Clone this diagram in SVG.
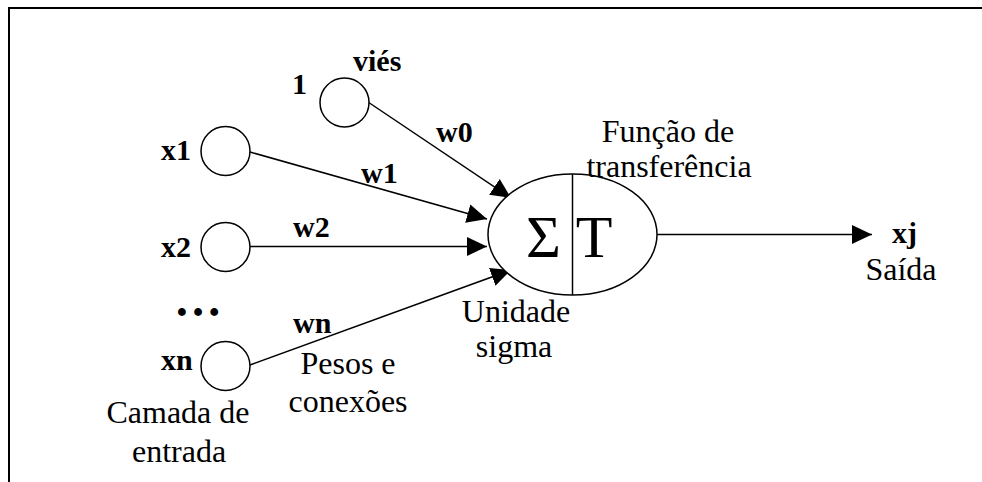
<svg xmlns="http://www.w3.org/2000/svg" width="982" height="482" viewBox="0 0 982 482">
  <style>
    .frame { fill: none; stroke: #000; stroke-width: 2; }
    .node { fill: #fff; stroke: #000; stroke-width: 1.5; }
    .edge { fill: none; stroke: #000; stroke-width: 1.5; marker-end: url(#arrow); }
    text { font-family: "Liberation Serif", Tinos, "Times New Roman", "DejaVu Serif", serif; fill: #000; }
    .lbl { font-size: 32px; font-weight: normal; text-anchor: middle; }
    .var { font-size: 30px; font-weight: bold; }
    .sym { font-size: 60px; font-weight: normal; text-anchor: middle; }
  </style>
  <defs>
    <marker id="arrow" markerUnits="userSpaceOnUse" markerWidth="20" markerHeight="19" refX="20" refY="9.5" orient="auto">
      <path d="M0,0 L20,9.5 L0,19 Z" fill="#000"/>
    </marker>
  </defs>

  <rect width="982" height="482" fill="#fff"/>
  <path class="frame" d="M9,482 V8 H982"/>

  <!-- connectors -->
  <g id="connectors">
    <line class="edge" x1="368" y1="102" x2="511" y2="198"/>
    <line class="edge" x1="250" y1="152" x2="487" y2="219"/>
    <line class="edge" x1="250" y1="246.5" x2="487" y2="246.5"/>
    <line class="edge" x1="250" y1="365" x2="511" y2="270"/>
    <line class="edge" x1="657" y1="234.5" x2="872" y2="234.5"/>
  </g>

  <!-- bias input -->
  <g id="bias">
    <circle class="node" cx="344.5" cy="102.5" r="24.5"/>
    <text class="var" x="292" y="94">1</text>
    <text class="var" x="353" y="71">viés</text>
  </g>

  <!-- input layer -->
  <g id="x1">
    <circle class="node" cx="225.5" cy="151" r="24.5"/>
    <text class="var" x="161" y="160">x1</text>
  </g>
  <g id="x2">
    <circle class="node" cx="225.5" cy="247" r="24.5"/>
    <text class="var" x="161" y="257">x2</text>
  </g>
  <g id="ellipsis">
    <text class="var" x="174" y="316" style="font-size:48px">…</text>
  </g>
  <g id="xn">
    <circle class="node" cx="225.5" cy="366" r="24.5"/>
    <text class="var" x="161" y="370">xn</text>
  </g>

  <!-- weights -->
  <g id="weights">
    <text class="var" x="436" y="142">w0</text>
    <text class="var" x="361" y="183">w1</text>
    <text class="var" x="293" y="237">w2</text>
    <text class="var" x="293" y="333">wn</text>
  </g>

  <!-- summing unit / transfer function -->
  <g id="neuron">
    <ellipse class="node" cx="572.5" cy="234.5" rx="84.5" ry="60.5"/>
    <line x1="572.5" y1="174" x2="572.5" y2="295" stroke="#000" stroke-width="1.5"/>
    <text class="sym" x="543.5" y="257">Σ</text>
    <text class="sym" x="594" y="257">T</text>
  </g>

  <!-- output -->
  <g id="output">
    <text class="var" x="892" y="243">xj</text>
    <text class="lbl" x="901" y="280">Saída</text>
  </g>

  <!-- captions -->
  <g id="captions">
    <text class="lbl" x="668" y="142">Função de</text>
    <text class="lbl" x="669" y="177">transferência</text>
    <text class="lbl" x="516" y="322">Unidade</text>
    <text class="lbl" x="514" y="357">sigma</text>
    <text class="lbl" x="348" y="374">Pesos e</text>
    <text class="lbl" x="348" y="412">conexões</text>
    <text class="lbl" x="178" y="423">Camada de</text>
    <text class="lbl" x="179" y="462">entrada</text>
  </g>
</svg>
